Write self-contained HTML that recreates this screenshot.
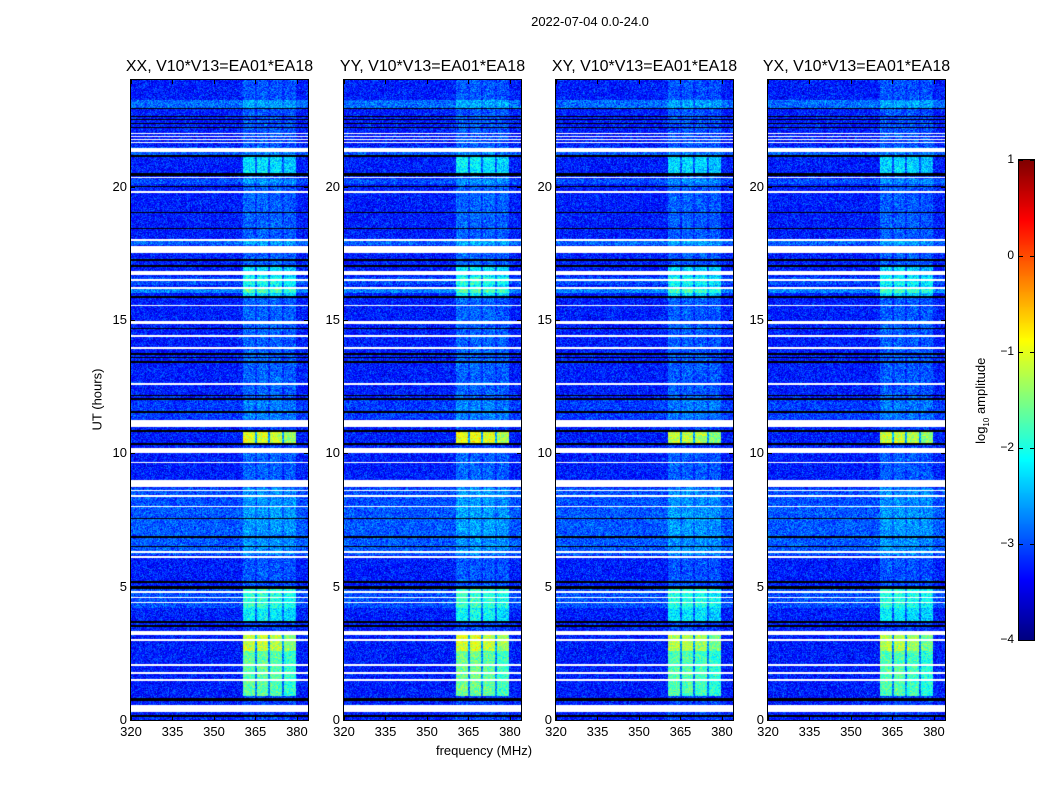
<!DOCTYPE html>
<html><head><meta charset="utf-8">
<style>
body{margin:0;background:#fff;width:1050px;height:800px;overflow:hidden;position:relative;font-family:"Liberation Sans",sans-serif;color:#000}
.t{position:absolute;white-space:nowrap;font-size:13px}
canvas{position:absolute}
.frame{position:absolute;border:1px solid #000;box-sizing:border-box}
</style></head>
<body>
<div class="t" style="left:0;width:1180px;text-align:center;top:14px">2022-07-04 0.0-24.0</div>
<div class="t" style="left:384px;width:200px;text-align:center;top:743px">frequency (MHz)</div>
<div class="t" style="left:47px;top:392px;width:100px;text-align:center;transform:rotate(-90deg)">UT (hours)</div>
<div class="t" style="left:932px;top:392px;width:100px;text-align:center;transform:rotate(-90deg)">log<sub style="font-size:8px">10</sub> amplitude</div>
<div id="root"></div>
<script>
// ---- data ----
const panelTitles=["XX, V10*V13=EA01*EA18","YY, V10*V13=EA01*EA18","XY, V10*V13=EA01*EA18","YX, V10*V13=EA01*EA18"];
const panelLeft=[131,344,556,768];
const panelGain=[1.0,1.05,0.95,0.95];
const xTicks=[320,335,350,365,380];
const yTicks=[0,5,10,15,20];
const cbTicks=[1,0,-1,-2,-3,-4];
// hours [start,end] with no data (white)
const whiteRows=[[0.3,0.56],[1.48,1.54],[1.74,1.8],[2.04,2.1],[2.98,3.04],[3.2,3.34],[4.38,4.44],[4.56,4.62],[4.78,4.84],[6.08,6.14],[6.28,6.34],[7.98,8.04],[8.38,8.44],[8.58,8.64],[8.75,9.0],[9.62,9.68],[10.0,10.2],[11.0,11.25],[12.58,12.64],[13.92,13.98],[14.38,14.44],[14.86,14.96],[15.52,15.58],[16.18,16.24],[16.46,16.52],[16.7,16.82],[17.5,17.78],[17.98,18.04],[19.78,19.84],[20.32,20.38],[21.3,21.45],[21.62,21.66],[21.74,21.78],[21.86,21.9],[21.96,22.0]];
// hours [start,end] flagged (black)
const blackRows=[[0.13,0.17],[0.72,0.82],[3.5,3.56],[3.62,3.7],[4.9,5.02],[5.15,5.2],[6.48,6.54],[6.84,6.9],[7.52,7.58],[10.3,10.4],[10.8,10.86],[11.5,11.6],[12.0,12.06],[12.14,12.2],[13.4,13.46],[13.56,13.62],[13.7,13.76],[14.66,14.7],[15.84,15.9],[17.0,17.06],[17.2,17.28],[18.4,18.45],[19.0,19.05],[19.98,20.02],[20.4,20.5],[21.13,21.18],[22.2,22.24],[22.34,22.38],[22.5,22.54],[22.62,22.66],[22.9,22.94]];
// RFI channels [fStart,fEnd,weight]
const rfiChans=[[360.4,364.8,1.0],[364.8,365.5,0.3],[365.5,369.6,1.0],[369.6,370.4,0.3],[370.4,374.6,0.95],[374.6,375.5,0.3],[375.5,379.7,0.85]];
// time activity of RFI [start,end,level]
const rfiTime=[[0.9,2.6,1.6],[2.6,3.2,2.1],[3.7,5.0,1.1],[5.0,7.0,0.3],[7.0,10.0,0.35],[10.4,10.8,2.2],[11.0,15.9,0.35],[15.9,17.0,1.0],[17.0,20.5,0.35],[20.5,21.2,1.0],[21.5,24,0.3]];
// background stripes [start,end,offset]
const bgStripes=[[4.2,5.0,0.25],[6.2,8.0,0.3],[8.0,8.7,0.25],[11.3,12.0,0.15],[16.0,16.2,0.5],[16.3,16.6,0.25],[17.8,18.0,0.35],[20.1,20.3,0.25],[21.2,21.5,0.3],[22.95,23.25,0.4]];
const bgLevel=-3.25, tMax=24, fMin=320, fMax=384;
</script>
<script>
const PW=177,PH=640,TOP=80;
const xScale=f=>(f-fMin)/(fMax-fMin)*PW;
const yScale=h=>PH-(h/tMax)*PH;
const cbY=v=>160+(1-v)/5*480;
function jet(v){
  const c=x=>Math.max(0,Math.min(1,x));
  return [c(1.5-Math.abs(4*v-3)),c(1.5-Math.abs(4*v-2)),c(1.5-Math.abs(4*v-1))].map(x=>Math.round(x*255));
}
function inR(list,h){for(const r of list){if(h>=r[0]&&h<r[1])return r;}return null;}
function hash(a,b,c){let x=(a*374761393+b*668265263+c*2147483647)|0;x=(x^(x>>>13))*1274126177|0;x=x^(x>>>16);return (x>>>0)/4294967296;}
const root=document.getElementById('root');
panelLeft.forEach((L,p)=>{
  const cv=document.createElement('canvas');
  
  
  cv.width=PW;cv.height=PH;cv.style.left=L+'px';cv.style.top=TOP+'px';
  root.appendChild(cv);
  const ctx=cv.getContext('2d');const img=ctx.createImageData(PW,PH);
  for(let j=0;j<PH;j++){
    const h=(PH-j-0.5)/PH*tMax;
    const w=inR(whiteRows,h),b=inR(blackRows,h);
    const st=inR(bgStripes,h),rt=inR(rfiTime,h);
    for(let i=0;i<PW;i++){
      const k=(j*PW+i)*4;let col;
      if(w)col=[255,255,255];else if(b)col=[0,0,0];
      else{
        const f=fMin+(i+0.5)/PW*(fMax-fMin);
        const ch=inR(rfiChans,f);
        let v=bgLevel+(st?st[2]:0);
        const n=(hash(i,j,p)+hash(i+7,j*3,p+11)-1);
        v+=n*0.55;
        if(ch)v+=ch[2]*(rt?rt[2]:0.2)*panelGain[p];
        col=jet(Math.max(0,Math.min(1,(v+4)/5)));
      }
      img.data[k]=col[0];img.data[k+1]=col[1];img.data[k+2]=col[2];img.data[k+3]=255;
    }
  }
  ctx.putImageData(img,0,0);
  const fr=document.createElement('div');fr.className='frame';
  
  
  fr.style.cssText=`left:${L-1}px;top:${TOP-1}px;width:${PW+2}px;height:${PH+2}px`;
  root.appendChild(fr);
  const tt=document.createElement('div');tt.className='t';tt.textContent=panelTitles[p];
  
  
  tt.style.cssText=`left:${L-60}px;width:${PW+120}px;text-align:center;top:58px;font-size:16px`;
  root.appendChild(tt);
  xTicks.forEach(t=>{
    const x=L+xScale(t);
    const lb=document.createElement('div');lb.className='t';lb.textContent=t;
    
    
    lb.style.cssText=`left:${x-20}px;width:40px;text-align:center;top:724px`;
    root.appendChild(lb);
    for(const yy of [TOP,TOP+PH-4]){const tk=document.createElement('div');
      
      
      tk.style.cssText=`position:absolute;left:${x}px;top:${yy}px;width:1px;height:4px;background:#000`;root.appendChild(tk);}
  });
  yTicks.forEach(t=>{
    const y=TOP+yScale(t);
    const lb=document.createElement('div');lb.className='t';lb.textContent=t;
    
    
    lb.style.cssText=`left:${L-44}px;width:40px;text-align:right;top:${y-8}px`;
    root.appendChild(lb);
    for(const xx of [L,L+PW-4]){const tk=document.createElement('div');
      
      
      tk.style.cssText=`position:absolute;left:${xx}px;top:${y}px;width:4px;height:1px;background:#000`;root.appendChild(tk);}
  });
});
const cb=document.createElement('canvas');cb.width=15;cb.height=480;


cb.style.left='1019px';cb.style.top='160px';root.appendChild(cb);
const cctx=cb.getContext('2d');
for(let j=0;j<480;j++){const c=jet(1-j/479);cctx.fillStyle=`rgb(${c})`;cctx.fillRect(0,j,15,1);}
const cf=document.createElement('div');cf.className='frame';


cf.style.cssText='left:1018px;top:159px;width:17px;height:482px';root.appendChild(cf);
cbTicks.forEach(v=>{
  const y=cbY(v);
  const lb=document.createElement('div');lb.className='t';lb.textContent=v<0?'\u2212'+(-v):v;
  
  
  lb.style.cssText=`left:974px;width:40px;text-align:right;top:${y-8}px;font-size:12px`;
  root.appendChild(lb);
  for(const xx of [1019,1030]){const tk=document.createElement('div');
    
    
    tk.style.cssText=`position:absolute;left:${xx}px;top:${y}px;width:4px;height:1px;background:#000`;root.appendChild(tk);}
});
</script>
</body></html>
